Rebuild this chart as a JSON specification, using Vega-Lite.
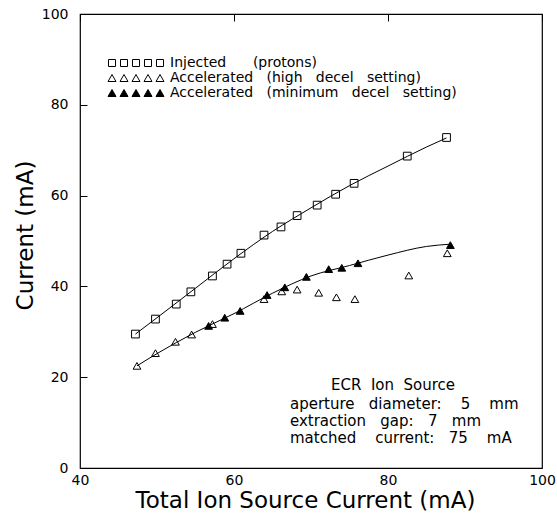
{
  "$schema": "https://vega.github.io/schema/vega-lite/v6.json",
  "width": 462,
  "height": 454,
  "autosize": "none",
  "padding": {"left": 80, "top": 14, "right": 15, "bottom": 51},
  "background": "white",
  "config": {
    "view": {"stroke": "black", "strokeWidth": 1.2},
    "font": "DejaVu Sans",
    "axis": {
      "domain": false,
      "ticks": false,
      "tickSize": 0,
      "grid": true,
      "gridColor": "black",
      "gridOpacity": 1,
      "gridWidth": 1,
      "labelColor": "black",
      "labelFont": "DejaVu Sans",
      "labelFontSize": 14,
      "titleFont": "DejaVu Sans",
      "titleFontSize": 23,
      "titleFontWeight": "normal",
      "titleColor": "black"
    }
  },
  "datasets": {
    "pts": [
      {"x": 47.2, "y": 29.5, "series": "inj"},
      {"x": 49.8, "y": 32.8, "series": "inj"},
      {"x": 52.5, "y": 36.1, "series": "inj"},
      {"x": 54.4, "y": 38.8, "series": "inj"},
      {"x": 57.2, "y": 42.3, "series": "inj"},
      {"x": 59.1, "y": 44.9, "series": "inj"},
      {"x": 60.9, "y": 47.3, "series": "inj"},
      {"x": 63.9, "y": 51.3, "series": "inj"},
      {"x": 66.1, "y": 53.1, "series": "inj"},
      {"x": 68.2, "y": 55.6, "series": "inj"},
      {"x": 70.8, "y": 57.9, "series": "inj"},
      {"x": 73.2, "y": 60.3, "series": "inj"},
      {"x": 75.6, "y": 62.7, "series": "inj"},
      {"x": 82.5, "y": 68.7, "series": "inj"},
      {"x": 87.6, "y": 72.8, "series": "inj"},
      {"x": 47.4, "y": 22.5, "series": "high"},
      {"x": 49.8, "y": 25.3, "series": "high"},
      {"x": 52.4, "y": 27.8, "series": "high"},
      {"x": 54.5, "y": 29.4, "series": "high"},
      {"x": 57.2, "y": 31.7, "series": "high"},
      {"x": 63.9, "y": 37.2, "series": "high"},
      {"x": 66.2, "y": 38.9, "series": "high"},
      {"x": 68.2, "y": 39.3, "series": "high"},
      {"x": 71.0, "y": 38.6, "series": "high"},
      {"x": 73.3, "y": 37.6, "series": "high"},
      {"x": 75.7, "y": 37.2, "series": "high"},
      {"x": 82.7, "y": 42.4, "series": "high"},
      {"x": 87.7, "y": 47.3, "series": "high"},
      {"x": 56.7, "y": 31.3, "series": "min"},
      {"x": 58.8, "y": 33.1, "series": "min"},
      {"x": 60.8, "y": 34.6, "series": "min"},
      {"x": 64.3, "y": 38.1, "series": "min"},
      {"x": 66.6, "y": 39.8, "series": "min"},
      {"x": 69.4, "y": 42.1, "series": "min"},
      {"x": 72.3, "y": 43.8, "series": "min"},
      {"x": 74.0, "y": 44.1, "series": "min"},
      {"x": 76.1, "y": 45.1, "series": "min"},
      {"x": 88.1, "y": 49.1, "series": "min"}
    ],
    "fit": [
      {"x": 47.2, "y": 29.5, "curve": "inj"},
      {"x": 50, "y": 33.1, "curve": "inj"},
      {"x": 55, "y": 39.6, "curve": "inj"},
      {"x": 60, "y": 46.1, "curve": "inj"},
      {"x": 65, "y": 52.1, "curve": "inj"},
      {"x": 70, "y": 57.3, "curve": "inj"},
      {"x": 75, "y": 62.2, "curve": "inj"},
      {"x": 80, "y": 66.5, "curve": "inj"},
      {"x": 85, "y": 70.7, "curve": "inj"},
      {"x": 87.6, "y": 72.7, "curve": "inj"},
      {"x": 47.4, "y": 22.5, "curve": "acc"},
      {"x": 50, "y": 25.2, "curve": "acc"},
      {"x": 55, "y": 29.9, "curve": "acc"},
      {"x": 60, "y": 34.0, "curve": "acc"},
      {"x": 65, "y": 38.5, "curve": "acc"},
      {"x": 70, "y": 42.3, "curve": "acc"},
      {"x": 75, "y": 44.6, "curve": "acc"},
      {"x": 80, "y": 46.9, "curve": "acc"},
      {"x": 85, "y": 48.8, "curve": "acc"},
      {"x": 88.1, "y": 49.3, "curve": "acc"}
    ]
  },
  "layer": [
    {
      "data": {"name": "fit"},
      "mark": {"type": "line", "color": "black", "strokeWidth": 1, "interpolate": "monotone"},
      "encoding": {
        "x": {
          "field": "x", "type": "quantitative",
          "scale": {"domain": [40, 100], "nice": false, "zero": false},
          "axis": {"orient": "bottom", "values": [40, 60, 80, 100], "gridDash": [7, 460], "labelPadding": 5, "labelFlush": false,
                   "title": "Total Ion Source Current (mA)", "titleBaseline": "alphabetic", "titleX": 225, "titleY": 39, "titleAnchor": "middle", "titleAlign": "center"}
        },
        "y": {
          "field": "y", "type": "quantitative",
          "scale": {"domain": [0, 100], "nice": false, "zero": false},
          "axis": {"orient": "left", "values": [0, 20, 40, 60, 80, 100], "gridDash": [7, 470], "labelPadding": 12, "labelFlush": false,
                   "title": "Current (mA)", "titleBaseline": "middle", "titleX": -55, "titleY": 221, "titleAngle": -90, "titleAlign": "center", "titleAnchor": "middle"}
        },
        "detail": {"field": "curve"}
      }
    },
    {
      "data": {"name": "pts"},
      "mark": {"type": "point", "filled": true, "stroke": "black", "strokeWidth": 1, "opacity": 1},
      "encoding": {
        "x": {
          "field": "x", "type": "quantitative",
          "scale": {"domain": [40, 100], "nice": false, "zero": false},
          "axis": {"orient": "bottom", "values": [40, 45, 50, 55, 60, 65, 70, 75, 80, 85, 90, 95, 100], "gridDash": [4, 460], "labelExpr": "''", "title": null}
        },
        "y": {
          "field": "y", "type": "quantitative",
          "scale": {"domain": [0, 100], "nice": false, "zero": false},
          "axis": {"orient": "left", "values": [0, 5, 10, 15, 20, 25, 30, 35, 40, 45, 50, 55, 60, 65, 70, 75, 80, 85, 90, 95, 100], "gridDash": [4, 470], "labelExpr": "''", "title": null}
        },
        "shape": {
          "field": "series",
          "scale": {"domain": ["inj", "high", "min"], "range": ["square", "triangle-up", "triangle-up"]},
          "legend": null
        },
        "fill": {
          "field": "series",
          "scale": {"domain": ["inj", "high", "min"], "range": ["transparent", "transparent", "black"]},
          "legend": null
        },
        "size": {"value": 60}
      }
    },
    {
      "data": {"name": "pts"},
      "transform": [{"filter": "datum.x < 0"}],
      "mark": {"type": "point", "filled": true, "strokeWidth": 1, "opacity": 1},
      "encoding": {
        "shape": {
          "field": "series",
          "scale": {"domain": ["inj", "high", "min"], "range": [
            "M-27.5,-3.5h7v7h-7zM-15.5,-3.5h7v7h-7zM-3.5,-3.5h7v7h-7zM8.5,-3.5h7v7h-7zM20.5,-3.5h7v7h-7z",
            "M-28,3.5L-20,3.5L-24,-3.5ZM-16,3.5L-8,3.5L-12,-3.5ZM-4,3.5L4,3.5L0,-3.5ZM8,3.5L16,3.5L12,-3.5ZM20,3.5L28,3.5L24,-3.5Z",
            "M-28,3.5L-20,3.5L-24,-3.5ZM-16,3.5L-8,3.5L-12,-3.5ZM-4,3.5L4,3.5L0,-3.5ZM8,3.5L16,3.5L12,-3.5ZM20,3.5L28,3.5L24,-3.5Z"
          ]},
          "legend": {
            "title": null, "orient": "none", "legendX": 49, "legendY": 42, "padding": 0,
            "symbolSize": 4, "symbolStrokeWidth": 1, "symbolOpacity": 1,
            "labelFont": "DejaVu Sans", "labelFontSize": 14, "labelColor": "black",
            "labelOffset": 27, "labelLimit": 0, "rowPadding": 1,
            "labelExpr": "datum.value == 'inj' ? 'Injected\u00a0\u00a0\u00a0\u00a0\u00a0\u00a0(protons)' : datum.value == 'high' ? 'Accelerated\u00a0\u00a0\u00a0(high\u00a0\u00a0\u00a0decel\u00a0\u00a0\u00a0setting)' : 'Accelerated\u00a0\u00a0\u00a0(minimum\u00a0\u00a0\u00a0decel\u00a0\u00a0\u00a0setting)'"
          }
        },
        "fill": {
          "field": "series",
          "scale": {"domain": ["inj", "high", "min"], "range": ["transparent", "transparent", "black"]},
          "legend": {
            "title": null, "orient": "none", "legendX": 49, "legendY": 42, "padding": 0,
            "symbolSize": 4, "symbolStrokeWidth": 1, "symbolOpacity": 1,
            "labelFont": "DejaVu Sans", "labelFontSize": 14, "labelColor": "black",
            "labelOffset": 27, "labelLimit": 0, "rowPadding": 1,
            "labelExpr": "datum.value == 'inj' ? 'Injected\u00a0\u00a0\u00a0\u00a0\u00a0\u00a0(protons)' : datum.value == 'high' ? 'Accelerated\u00a0\u00a0\u00a0(high\u00a0\u00a0\u00a0decel\u00a0\u00a0\u00a0setting)' : 'Accelerated\u00a0\u00a0\u00a0(minimum\u00a0\u00a0\u00a0decel\u00a0\u00a0\u00a0setting)'"
          }
        },
        "stroke": {
          "field": "series",
          "scale": {"domain": ["inj", "high", "min"], "range": ["black", "black", "black"]},
          "legend": {
            "title": null, "orient": "none", "legendX": 49, "legendY": 42, "padding": 0,
            "symbolSize": 4, "symbolStrokeWidth": 1, "symbolOpacity": 1,
            "labelFont": "DejaVu Sans", "labelFontSize": 14, "labelColor": "black",
            "labelOffset": 27, "labelLimit": 0, "rowPadding": 1,
            "labelExpr": "datum.value == 'inj' ? 'Injected\u00a0\u00a0\u00a0\u00a0\u00a0\u00a0(protons)' : datum.value == 'high' ? 'Accelerated\u00a0\u00a0\u00a0(high\u00a0\u00a0\u00a0decel\u00a0\u00a0\u00a0setting)' : 'Accelerated\u00a0\u00a0\u00a0(minimum\u00a0\u00a0\u00a0decel\u00a0\u00a0\u00a0setting)'"
          }
        },
        "size": {"value": 4}
      }
    },
    {
      "data": {"values": [{}]},
      "mark": {"type": "text", "text": "ECR\u00a0\u00a0Ion\u00a0\u00a0Source", "align": "center", "baseline": "middle", "font": "DejaVu Sans", "fontSize": 15, "color": "black"},
      "encoding": {
        "x": {"datum": 80.65, "type": "quantitative", "scale": {"domain": [40, 100], "nice": false, "zero": false},
              "axis": {"orient": "top", "values": [40, 60, 80, 100], "gridDash": [7, 460], "labelExpr": "''", "title": null}},
        "y": {"datum": 18.3, "type": "quantitative", "scale": {"domain": [0, 100], "nice": false, "zero": false},
              "axis": {"orient": "right", "values": [0, 20, 40, 60, 80, 100], "gridDash": [7, 470], "labelExpr": "''", "title": null}}
      }
    },
    {
      "data": {"values": [{}]},
      "mark": {"type": "text", "text": ["aperture\u00a0\u00a0\u00a0diameter:\u00a0\u00a0\u00a0\u00a05\u00a0\u00a0\u00a0\u00a0mm", "extraction\u00a0\u00a0\u00a0gap:\u00a0\u00a0\u00a07\u00a0\u00a0\u00a0mm", "matched\u00a0\u00a0\u00a0\u00a0current:\u00a0\u00a0\u00a075\u00a0\u00a0\u00a0\u00a0mA"], "align": "left", "baseline": "alphabetic", "lineHeight": 17, "font": "DejaVu Sans", "fontSize": 15, "color": "black"},
      "encoding": {
        "x": {"datum": 67.27, "type": "quantitative", "scale": {"domain": [40, 100], "nice": false, "zero": false},
              "axis": {"orient": "top", "values": [40, 45, 50, 55, 60, 65, 70, 75, 80, 85, 90, 95, 100], "gridDash": [4, 460], "labelExpr": "''", "title": null}},
        "y": {"datum": 13.1, "type": "quantitative", "scale": {"domain": [0, 100], "nice": false, "zero": false},
              "axis": {"orient": "right", "values": [0, 5, 10, 15, 20, 25, 30, 35, 40, 45, 50, 55, 60, 65, 70, 75, 80, 85, 90, 95, 100], "gridDash": [4, 470], "labelExpr": "''", "title": null}}
      }
    }
  ],
  "resolve": {
    "axis": {"x": "independent", "y": "independent"},
    "scale": {"shape": "independent", "fill": "independent", "stroke": "independent"}
  }
}
